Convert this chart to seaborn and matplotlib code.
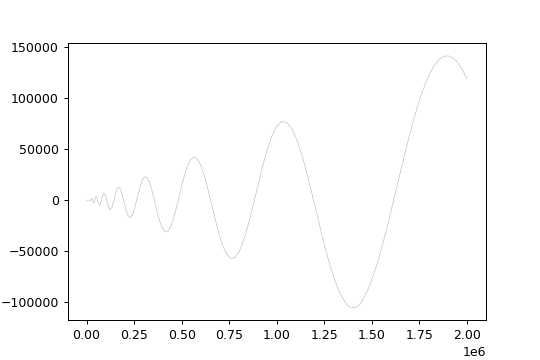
import matplotlib
matplotlib.use("Agg")
import matplotlib.pyplot as plt
import seaborn as sns
import pandas as pd

# x positions in millions
x_mil = [0.0,
    0.02351, 0.025354, 0.027343, 0.029488,
    0.0318, 0.034295, 0.036985, 0.039886,
    0.04302, 0.046395, 0.050035, 0.05396,
    0.05819, 0.062755, 0.067678, 0.072987,
    0.07871, 0.084884, 0.091543, 0.098724,
    0.10647, 0.114822, 0.123829, 0.133543,
    0.14402, 0.149562, 0.155318, 0.161295, 0.167502, 0.173948, 0.180642, 0.187593,
    0.19483, 0.202327, 0.210113, 0.218199, 0.226596, 0.235316, 0.244371, 0.253775,
    0.26354, 0.273682, 0.284214, 0.295151, 0.306509, 0.318304, 0.330553, 0.343273,
    0.35648, 0.370198, 0.384444, 0.399238, 0.414601, 0.430556, 0.447125, 0.464331,
    0.4822, 0.494493, 0.507099, 0.520026, 0.533283, 0.546878, 0.560819, 0.575116,
    0.589777, 0.604812, 0.62023, 0.636041,
    0.65227, 0.668898, 0.68595, 0.703437, 0.72137, 0.73976, 0.758619, 0.777958,
    0.79779, 0.818128, 0.838984, 0.860372,
    0.88231, 0.904803, 0.927869, 0.951523, 0.97578, 1.000655, 1.026165, 1.052325,
    1.079152, 1.106663, 1.134875, 1.163807,
    1.19348, 1.208597, 1.223905, 1.239407, 1.255106, 1.271003, 1.287102, 1.303404,
    1.319914, 1.336632, 1.353563, 1.370707, 1.388069, 1.40565, 1.423455, 1.441485,
    1.459743, 1.478232, 1.496956, 1.515917, 1.535118, 1.554562, 1.574253, 1.594193,
    1.61439, 1.634838, 1.655546, 1.676515, 1.697751, 1.719255, 1.741032, 1.763084,
    1.785416, 1.80803, 1.830932, 1.854123, 1.877608, 1.90139, 1.925474, 1.949862,
    1.97456, 2.0]

y_vals = [0,
    0, 1345, 2051, 1564,
    0, -1819, -2774, -2115,
    0, 2460, 3753, 2862,
    0, -3328, -5076, -3871,
    0, 4502, 6866, 5236,
    0, -6089, -9287, -7082,
    0, 4293, 8237, 11176, 12563, 12053, 9580, 5384,
    0, -5807, -11143, -15119, -16995, -16305, -12960, -7284,
    0, 7855, 15073, 20451, 22988, 22056, 17530, 9852,
    0, -10625, -20388, -27664, -31095, -29834, -23712, -13327,
    0, 9599, 19016, 27579, 34638, 39618, 42061, 41664,
    38307, 32075, 23259, 12347,
    0, -12984, -25723, -37306, -46855, -53592, -56896, -56359,
    -51818, -43388, -31462, -16701,
    0, 17564, 34795, 50462, 63379, 72492, 76962, 76235,
    70093, 58690, 42558, 22591,
    0, -11832, -23758, -35572, -47066, -58030, -68259, -77554,
    -85731, -92617, -98059, -102800, -105000, -105400, -104100, -100800,
    -94814, -87957, -79388, -69212, -57567, -44618, -30559, -15607,
    0, 16005, 32137, 48118, 63666, 78496, 92333, 104906,
    115967, 125280, 132641, 137869, 140821, 141384, 139490, 135108,
    128252, 118800]

df = pd.DataFrame({"x": [v * 1e6 for v in x_mil], "y": y_vals})

fig, ax = plt.subplots(figsize=(6, 4), dpi=90)
sns.lineplot(data=df, x="x", y="y", ax=ax, color="#c4b8b8", linewidth=0.5,
             estimator=None, sort=False)
ax.set_xlabel("")
ax.set_ylabel("")
fig.savefig("out.png", dpi=90)
